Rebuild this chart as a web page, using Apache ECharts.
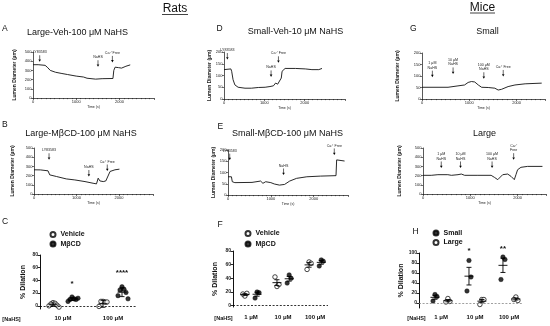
<!DOCTYPE html>
<html><head><meta charset="utf-8">
<script src="https://cdn.jsdelivr.net/npm/echarts@6/dist/echarts.min.js"></script>
<style>html,body{margin:0;padding:0;background:#fff}#c{width:550px;height:326px}</style>
</head><body><div id="c"></div>
<script>
const FONT = '"Liberation Sans", Arial, Helvetica, sans-serif';

// ---------- Trace data: [time (s), lumen diameter (µm)] ----------
const traceA = [[0,362],[120,362],[280,355],[330,335],[400,300],[520,280],[650,268],[800,255],[1000,238],[1170,228],[1250,215],[1290,200],[1450,205],[1600,210],[1850,212],[1870,300],[1900,335],[1980,330],[2050,325],[2150,345],[2250,360]];
const traceB = [[0,263],[150,262],[330,252],[370,208],[530,190],[760,164],[960,153],[1200,135],[1390,117],[1470,110],[1510,172],[1550,142],[1630,135],[1690,142],[1790,245],[1905,263],[2010,270]];
const traceD = [[0,125],[170,128],[190,118],[225,82],[270,60],[350,50],[520,46],[680,46],[850,49],[1020,50],[1140,53],[1225,56],[1280,68],[1330,63],[1375,60],[1420,89],[1440,118],[1475,125],[1515,130],[1770,130],[2015,128],[2180,125],[2350,125],[2430,130]];
const traceE = [[0,81],[80,81],[100,59],[160,55],[560,56],[760,62],[815,52],[880,59],[1000,55],[1080,49],[1200,44],[1320,47],[1440,62],[1600,74],[1840,81],[2160,84],[2520,86],[2535,156],[2560,148],[2720,151]];
const traceG = [[0,51],[550,51],[760,57],[900,61],[975,72],[1045,76],[1115,74],[1190,61],[1260,51],[1400,50],[1540,47],[1610,39],[1680,42],[1820,54],[1965,61],[2180,66],[2530,69]];
const traceL = [[0,203],[175,203],[315,210],[525,210],[600,203],[740,210],[810,217],[880,203],[1160,203],[1440,203],[1510,181],[1580,156],[1615,170],[1685,210],[1790,217],[1860,192],[1930,156],[1965,210],[2000,264],[2070,290],[2210,300],[2525,300]];

// ---------- Arrow annotations: [time, diameter at arrow tip, label] ----------
const arrowsA = [[155,394,'LY83583'],[1504,340,'NaHS'],[1837,387,'Ca²⁺ Free']];
const arrowsB = [[354,372,'LY83583'],[1291,190,'NaHS'],[1724,250,'Ca²⁺ Free']];
const arrowsD = [[83,168,'LY83583'],[1167,94,'NaHS'],[1350,154,'Ca²⁺ Free']];
const arrowsE = [[40,155,'LY83583'],[1296,89,'NaHS'],[2480,178,'Ca²⁺ Free']];
const arrowsG = [[219,95,'1 μM\nNaHS'],[657,109,'10 μM\nNaHS'],[1307,88,'100 μM\nNaHS'],[1717,98,'Ca²⁺ Free']];
const arrowsL = [[386,283,'1 μM\nNaHS'],[793,283,'10 μM\nNaHS'],[1460,283,'100 μM\nNaHS'],[1916,373,'Ca²⁺\nFree']];

// ---------- Dot plots: % dilation ----------
const catC = ['10 μM','100 μM'];
const vehC = [[5,4,3,1,0,-2],[7,6,7,6,-1,-6]];
const mbcdC = [[14,11,10,10,7,12],[30,26,25,21,16,11]];
const sigC = [[0,34,'*'],[1,52,'****']];

const catF = ['1 μM','10 μM','100 μM'];
const vehF = [[14,18,17],[28,31,42],[64,62,53]];
const mbcdF = [[20,19,11],[45,40,33],[67,65,58]];

const catH = ['1 μM','10 μM','100 μM'];
const smallH = [[17,13,4],[85,52,24],[92,87,47]];
const largeH = [[9,3,2],[7,7,-3],[12,5,7]];
const sigH = [[1,104,'*'],[2,108,'**']];

// ---------- layout ----------
const TR = [
  {data:traceA, arrows:arrowsA, left:33, top:52, width:121, height:46, xmax:2800, ymax:500, yint:100, yGap:16, xGap:5},
  {data:traceB, arrows:arrowsB, left:34, top:148, width:119, height:46, xmax:2800, ymax:500, yint:100, yGap:19, xGap:7},
  {data:traceD, arrows:arrowsD, left:224, top:52, width:121, height:47, xmax:3000, ymax:200, yint:50, yGap:5.5, xGap:6},
  {data:traceE, arrows:arrowsE, left:228, top:150, width:120, height:45, xmax:2800, ymax:200, yint:50, yGap:10, xGap:6},
  {data:traceG, arrows:arrowsG, left:422, top:53, width:123, height:46, xmax:2600, ymax:200, yint:50, yGap:22, xGap:6},
  {data:traceL, arrows:arrowsL, left:423, top:148, width:123, height:46, xmax:2600, ymax:500, yint:100, yGap:21, xGap:7}
];
const DP = [
  {cats:catC, left:40, top:255, width:97, height:54, xmin:0.54, xmax:2.48, ymin:-5, ymax:80, yticks:[0,20,40,60,80], yGap:13, lblMargin:6.5,
   groups:[{name:'Vehicle', vals:vehC, off:-0.2, open:true, err:'sd'},{name:'MβCD', vals:mbcdC, off:0.18, open:false, err:'sd'}], sig:sigC, sigGroup:1, zeroColor:'#000'},
  {cats:catF, left:233, top:251, width:95, height:56, xmin:0.44, xmax:3.4, ymin:-2, ymax:80, yticks:[0,20,40,60,80], yGap:14.5, lblMargin:7.5,
   groups:[{name:'Vehicle', vals:vehF, off:-0.19, open:true, err:'sem'},{name:'MβCD', vals:mbcdF, off:0.19, open:false, err:'sem'}], sig:[], sigGroup:1, zeroColor:'#000'},
  {cats:catH, left:419, top:253, width:103, height:55, xmin:0.35, xmax:3.38, ymin:-10, ymax:100, yticks:[0,20,40,60,80,100], yGap:6, lblMargin:6.5,
   groups:[{name:'Small', vals:smallH, off:-0.18, open:false, err:'sem'},{name:'Large', vals:largeH, off:0.2, open:true, err:'sem'}], sig:sigH, sigGroup:0, zeroColor:'#888'}
];

const grids = [], xAxes = [], yAxes = [], series = [];
const plain = v => String(v);

TR.forEach((t, i) => {
  grids.push({left:t.left, top:t.top, width:t.width, height:t.height, containLabel:false});
  xAxes.push({type:'value', gridIndex:i, min:0, max:t.xmax, interval:1000,
    axisLine:{lineStyle:{color:'#111', width:0.7}}, axisTick:{length:2, lineStyle:{color:'#111', width:0.6}},
    minorTick:{show:true, splitNumber:10, length:1.2, lineStyle:{color:'#111', width:0.5}},
    splitLine:{show:false}, minorSplitLine:{show:false},
    axisLabel:{fontSize:4, margin:2, color:'#222', fontFamily:FONT, showMaxLabel:false, formatter:plain},
    name:'Time (s)', nameLocation:'middle', nameGap:t.xGap, nameTextStyle:{fontSize:3.5, color:'#222', fontFamily:FONT}});
  yAxes.push({type:'value', gridIndex:i, min:0, max:t.ymax, interval:t.yint,
    axisLine:{show:true, lineStyle:{color:'#111', width:0.7}}, axisTick:{show:true, length:2, lineStyle:{color:'#111', width:0.6}},
    splitLine:{show:false},
    axisLabel:{fontSize:4, margin:1.5, color:'#222', fontFamily:FONT, formatter:plain},
    name:'Lumen Diameter (µm)', nameLocation:'middle', nameRotate:90, nameGap:t.yGap,
    nameTextStyle:{fontSize:5, fontWeight:'bold', color:'#222', fontFamily:FONT}});
  series.push({type:'line', xAxisIndex:i, yAxisIndex:i, data:t.data, showSymbol:false, silent:true,
    lineStyle:{color:'#111', width:0.9}});
  const list = t.arrows;
  series.push({type:'custom', xAxisIndex:i, yAxisIndex:i, silent:true,
    data:list.map(a => [a[0], a[1]]), encode:{x:0, y:1},
    renderItem:(params, api) => {
      const p = api.coord([api.value(0), api.value(1)]);
      const txt = list[params.dataIndex][2];
      const L = 6.5, hw = 1.3, hh = 2.3;
      return {type:'group', children:[
        {type:'line', shape:{x1:p[0], y1:p[1]-L, x2:p[0], y2:p[1]-hh+0.3}, style:{stroke:'#000', lineWidth:0.6}},
        {type:'polygon', shape:{points:[[p[0]-hw, p[1]-hh],[p[0]+hw, p[1]-hh],[p[0], p[1]]]}, style:{fill:'#000'}},
        {type:'text', x:p[0], y:p[1]-L-0.8, style:{text:txt, fontSize:3.6, fontFamily:FONT, fill:'#222', align:'center', verticalAlign:'bottom', lineHeight:4.3}}
      ]};
    }});
});

function mean(a){ return a.reduce((s,v)=>s+v,0)/a.length; }
function sd(a){ const m = mean(a); return Math.sqrt(a.reduce((s,v)=>s+(v-m)*(v-m),0)/(a.length-1)); }
const JIT = [0,1,-1,2,-2,3];

DP.forEach((d, k) => {
  const gi = 6 + k;
  const pxPerUnit = d.width / (d.xmax - d.xmin);
  grids.push({left:d.left, top:d.top, width:d.width, height:d.height});
  xAxes.push({type:'value', gridIndex:gi, min:d.xmin, max:d.xmax,
    axisLine:{show:false}, axisTick:{show:false}, splitLine:{show:false},
    axisLabel:{customValues:d.cats.map((c,j)=>j+1), formatter:v => d.cats[Math.round(v)-1] || '',
      fontSize:6, fontWeight:'bold', color:'#111', fontFamily:FONT, margin:d.lblMargin}});
  yAxes.push({type:'value', gridIndex:gi, min:d.ymin, max:d.ymax,
    axisLine:{show:true, lineStyle:{color:'#111', width:1}},
    axisTick:{show:true, customValues:d.yticks, length:2.5, lineStyle:{color:'#111', width:0.9}},
    splitLine:{show:false},
    axisLabel:{customValues:d.yticks, fontSize:5, fontWeight:'bold', color:'#222', fontFamily:FONT, margin:2},
    name:'% Dilation', nameLocation:'middle', nameRotate:90, nameGap:d.yGap,
    nameTextStyle:{fontSize:7, fontWeight:'bold', color:'#111', fontFamily:FONT}});
  d.groups.forEach((g, gIdx) => {
    const pts = [], errs = [];
    g.vals.forEach((arr, c) => {
      const cx = c + 1 + g.off;
      arr.forEach((v, j) => pts.push([cx + JIT[j % JIT.length] * 2 / pxPerUnit, v]));
      const m = mean(arr);
      const e = g.err === 'sd' ? sd(arr) : sd(arr) / Math.sqrt(arr.length);
      errs.push([cx, m, e]);
    });
    const s = {type:'scatter', name:g.name, xAxisIndex:gi, yAxisIndex:gi, data:pts, symbol:'circle', symbolSize:4.5, silent:true, z:3,
      itemStyle: g.open ? {color:'#fff', borderColor:'#000', borderWidth:0.9} : {color:'#000', borderColor:'#000', borderWidth:0.5}};
    if (gIdx === 0) {
      s.markLine = {silent:true, symbol:'none', label:{show:false}, animation:false,
        lineStyle:{type:[2,1.6], color:d.zeroColor, width:0.8}, data:[{yAxis:0}]};
    }
    series.push(s);
    series.push({type:'custom', xAxisIndex:gi, yAxisIndex:gi, silent:true, z:4, data:errs, encode:{x:0, y:1},
      renderItem:(params, api) => {
        const x = api.value(0), m = api.value(1), e = api.value(2);
        const c = api.coord([x, m]), tp = api.coord([x, m + e]), bt = api.coord([x, m - e]);
        const st = {stroke:'#000', lineWidth:0.9};
        const hm = 4.5, hc = 2.5;
        return {type:'group', children:[
          {type:'line', shape:{x1:c[0]-hm, y1:c[1], x2:c[0]+hm, y2:c[1]}, style:st},
          {type:'line', shape:{x1:tp[0], y1:tp[1], x2:bt[0], y2:bt[1]}, style:st},
          {type:'line', shape:{x1:tp[0]-hc, y1:tp[1], x2:tp[0]+hc, y2:tp[1]}, style:st},
          {type:'line', shape:{x1:bt[0]-hc, y1:bt[1], x2:bt[0]+hc, y2:bt[1]}, style:st}
        ]};
      }});
  });
  if (d.sig.length) {
    const off = d.groups[d.sigGroup].off;
    const sg = d.sig;
    series.push({type:'custom', xAxisIndex:gi, yAxisIndex:gi, silent:true, z:5,
      data:sg.map(s => [s[0] + 1 + off, s[1]]), encode:{x:0, y:1},
      renderItem:(params, api) => {
        const p = api.coord([api.value(0), api.value(1)]);
        return {type:'text', x:p[0], y:p[1], style:{text:sg[params.dataIndex][2], fontSize:8, fontWeight:'bold', fontFamily:FONT, fill:'#111', align:'center', verticalAlign:'middle'}};
      }});
  }
});

const legendBase = {orient:'vertical', itemWidth:5, itemHeight:5, itemGap:2.5, icon:'circle', padding:0, selectedMode:false,
  textStyle:{fontSize:7, fontWeight:'bold', fontFamily:FONT, color:'#111'}};
const legends = [
  Object.assign({}, legendBase, {data:['Vehicle','MβCD'], left:49.5, top:231}),
  Object.assign({}, legendBase, {data:['Vehicle','MβCD'], left:244.5, top:230, itemGap:3.5}),
  Object.assign({}, legendBase, {data:['Small','Large'], left:432.5, top:229.5})
];

function txt(x, y, s, size, opts) {
  return {type:'text', x:x, y:y, silent:true, style:Object.assign({text:s, fontSize:size, fontFamily:FONT, fill:'#111', align:'center', verticalAlign:'middle'}, opts || {})};
}
const graphics = [
  txt(175, 9, 'Rats', 12),
  {type:'line', silent:true, shape:{x1:162, y1:14.5, x2:188, y2:14.5}, style:{stroke:'#111', lineWidth:0.8}},
  txt(482.5, 7.5, 'Mice', 12),
  {type:'line', silent:true, shape:{x1:470, y1:13, x2:495, y2:13}, style:{stroke:'#111', lineWidth:0.8}},
  txt(2, 28.5, 'A', 8.5, {align:'left'}),
  txt(2, 125, 'B', 8.5, {align:'left'}),
  txt(2, 222, 'C', 8.5, {align:'left'}),
  txt(216.5, 28.5, 'D', 8.5, {align:'left'}),
  txt(217.5, 126.5, 'E', 8.5, {align:'left'}),
  txt(217.5, 225, 'F', 8.5, {align:'left'}),
  txt(410, 29, 'G', 8.5, {align:'left'}),
  txt(412.5, 231.5, 'H', 8.5, {align:'left'}),
  txt(77.5, 33, 'Large-Veh-100 μM NaHS', 9),
  txt(81, 133.5, 'Large-MβCD-100 μM NaHS', 9),
  txt(295.5, 32, 'Small-Veh-10 μM NaHS', 9),
  txt(287.5, 134, 'Small-MβCD-100 μM NaHS', 9),
  txt(487.5, 31.5, 'Small', 9),
  txt(484.5, 133.5, 'Large', 9),
  txt(11.5, 319, '[NaHS]', 5.5, {fontWeight:'bold'}),
  txt(223.5, 318, '[NaHS]', 5.5, {fontWeight:'bold'}),
  txt(416.5, 318, '[NaHS]', 5.5, {fontWeight:'bold'})
];

const chart = echarts.init(document.getElementById('c'), null, {renderer:'canvas'});
chart.setOption({
  animation:false,
  backgroundColor:'#fff',
  grid:grids, xAxis:xAxes, yAxis:yAxes, series:series,
  legend:legends,
  graphic:graphics
});
</script>
</body></html>
